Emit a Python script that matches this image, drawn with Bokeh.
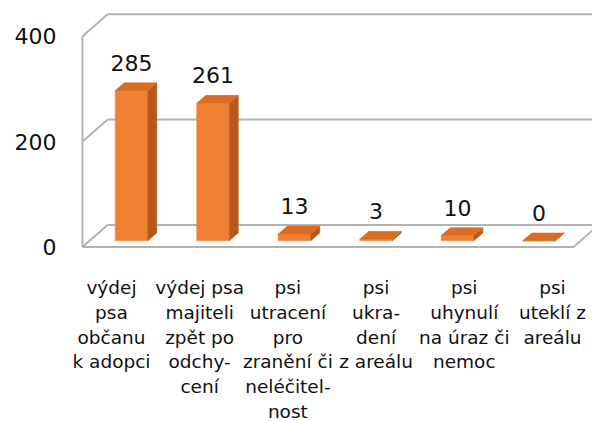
from bokeh.plotting import figure
from bokeh.models import Range1d, FixedTicker, ColumnDataSource
from bokeh.embed import file_html
from bokeh.resources import INLINE
from bokeh.core.properties import value

# ---- data ----
categories = [
    "výdej\npsa\nobčanu\nk adopci",
    "výdej psa\nmajiteli\nzpět po\nodchy-\ncení",
    "psi\nutracení\npro\nzranění či\nneléčitel-\nnost",
    "psi\nukra-\ndení\nz areálu",
    "psi\nuhynulí\nna úraz či\nnemoc",
    "psi\nuteklí z\nareálu",
]
values = [285, 261, 13, 3, 10, 0]
y_ticks = [0, 200, 400]
value_labels = [str(v) for v in values]

# ---- style / geometry constants ----
FONT = "DejaVu Sans"
GRID_COLOR = "#b3b3b3"
FRONT = "#ef8232"
SIDE = "#b5581d"
TOP = "#d96c22"
DX, DY = 0.307, 41.7          # full depth of the 3-D box, in data units
D_A, D_B = 0.28, 0.64         # bar front / back depth fractions
HALF_W = 0.2                  # half bar width (category units)
n = len(categories)
FLOOR_L, FLOOR_R = -0.515, n - 0.491
YMAX = y_ticks[-1]

p = figure(width=592, height=421, output_backend="svg", toolbar_location=None,
           x_range=Range1d(-0.785, 5.742), y_range=Range1d(-331.1, 467.7),
           min_border_left=60, min_border_right=0, min_border_top=0, min_border_bottom=0,
           x_axis_location=None)
p.extra_x_ranges = {"lab": Range1d(-0.578, 5.454)}
p.outline_line_color = None
p.grid.visible = False
p.background_fill_color = "white"
p.border_fill_color = "white"

yax = p.yaxis[0]
yax.ticker = FixedTicker(ticks=y_ticks)
yax.axis_line_color = None
yax.major_tick_line_color = None
yax.minor_tick_line_color = None
yax.major_tick_out = 0
yax.major_label_standoff = 4
yax.major_label_text_font = FONT
yax.major_label_text_font_size = "22px"
yax.major_label_text_color = "#111111"

# ---- walls and gridlines ----
gx, gy = [], []
for t in y_ticks:
    gx.append([FLOOR_L + DX, FLOOR_R + DX]); gy.append([t + DY, t + DY])
    gx.append([FLOOR_L, FLOOR_L + DX]); gy.append([t, t + DY])
gx.append([FLOOR_L, FLOOR_L]); gy.append([0, YMAX])
gx.append([FLOOR_L, FLOOR_R, FLOOR_R + DX]); gy.append([0, 0, DY])
p.multi_line(gx, gy, line_color=GRID_COLOR, line_width=2)

# ---- 3-D bars ----
fx, fy, sx, sy, tx, ty = [], [], [], [], [], []
for i, v in enumerate(values):
    xa, xb = i + D_A * DX, i + D_B * DX
    ya, yb = D_A * DY, D_B * DY
    l, r = -HALF_W, HALF_W
    fx.append([xa + l, xa + r, xa + r, xa + l]); fy.append([ya, ya, ya + v, ya + v])
    sx.append([xa + r, xb + r, xb + r, xa + r]); sy.append([ya, yb, yb + v, ya + v])
    tx.append([xa + l, xa + r, xb + r, xb + l]); ty.append([ya + v, ya + v, yb + v, yb + v])
p.patches(fx, fy, fill_color=FRONT, line_color=FRONT, line_width=0.5)
p.patches(sx, sy, fill_color=SIDE, line_color=SIDE, line_width=0.5)
p.patches(tx, ty, fill_color=TOP, line_color=TOP, line_width=0.5)

# ---- value labels ----
lab_src = ColumnDataSource(dict(
    x=[i + D_A * DX for i in range(n)],
    y=[v + D_B * DY for v in values],
    t=value_labels))
p.text(x="x", y="y", text="t", source=lab_src, text_align="center",
       text_baseline="alphabetic", y_offset=-20, text_font=value(FONT),
       text_font_size="22px", text_color="#111111")

# ---- category labels ----
cat_src = ColumnDataSource(dict(x=list(range(n)), y=[0] * n, t=categories))
p.text(x="x", y="y", text="t", source=cat_src, x_range_name="lab",
       text_align="center", text_baseline="top", y_offset=30,
       text_font=value(FONT), text_font_size="18.5px", text_line_height=1.18,
       text_color="#111111")

open("out.html", "w").write(file_html(p, INLINE))
